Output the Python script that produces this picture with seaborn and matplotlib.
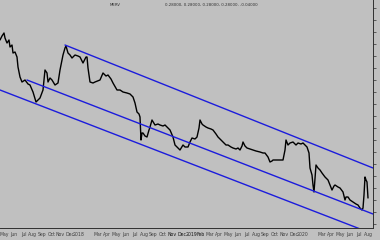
import matplotlib
matplotlib.use("Agg")
import matplotlib.pyplot as plt
import seaborn as sns
import pandas as pd
import numpy as np

# ---- data (bar index, price level) ----
bar = [0, 2, 4, 5, 7, 9, 10, 12, 13, 15, 17, 18, 20, 22, 25, 28, 30, 33, 36, 38, 40, 43, 45, 47, 48, 50,
       52, 55, 58, 60, 62, 63, 65, 66, 68, 70, 72, 75, 78, 80, 83, 86, 87, 88, 90, 93, 95, 100, 103, 106,
       108, 111, 113, 117, 120, 123, 127, 130, 133, 135, 137, 139, 140, 141, 142, 143, 145, 147, 149, 150,
       152, 155, 158, 160, 163, 165, 168, 170, 173, 175, 178, 180, 183, 185, 188, 190, 192, 195, 197, 199,
       200, 202, 203, 206, 208, 211, 213, 216, 218, 221, 223, 226, 228, 231, 233, 236, 238, 240, 242, 243,
       245, 247, 250, 253, 256, 260, 263, 265, 268, 270, 272, 273, 277, 280, 283, 285, 286, 288, 290, 293,
       296, 298, 301, 303, 305, 307, 309, 310, 312, 313, 314, 315, 316, 318, 320, 322, 325, 328, 330, 332,
       334, 335, 338, 340, 343, 345, 346, 348, 350, 353, 356, 358, 360, 362, 363, 364, 365, 366, 367, 368]
price = [188, 192, 195, 190, 185, 188, 181, 183, 175, 176, 171, 161, 151, 146, 148, 144, 143, 136, 126, 128,
         130, 138, 158, 155, 146, 150, 148, 143, 145, 158, 168, 173, 180, 182, 175, 173, 170, 173, 172, 171,
         165, 171, 171, 160, 146, 145, 146, 148, 155, 152, 153, 149, 145, 138, 138, 136, 135, 134, 131, 125,
         116, 114, 111, 88, 95, 95, 92, 91, 98, 101, 108, 103, 104, 103, 102, 103, 100, 98, 91, 83,
         80, 78, 83, 81, 81, 86, 90, 89, 91, 100, 108, 104, 103, 101, 100, 99, 98, 94, 91, 88,
         86, 83, 83, 81, 80, 79, 80, 78, 82, 86, 82, 80, 79, 78, 77, 76, 75, 75, 71, 66,
         67, 68, 68, 68, 68, 78, 88, 83, 85, 86, 83, 85, 84, 85, 83, 81, 75, 60, 53, 43,
         36, 50, 63, 60, 58, 55, 51, 48, 43, 38, 42, 43, 41, 40, 36, 28, 31, 31, 28, 26,
         24, 23, 20, 18, 20, 33, 51, 48, 46, 30]

# channel lines (start/end points)
upper_bar = [65, 373]
upper_val = [183, 60]
middle_bar = [27, 373]
middle_val = [148, 14]
lower_bar = [0, 368]
lower_val = [138, -4]

# month boundaries (bar index) and labels
month_start = [0, 9, 19, 28, 37, 47, 56, 65, 74, 84, 93, 102, 112, 121, 130, 140, 149, 158, 168, 177,
               186, 196, 205, 214, 223, 233, 242, 251, 261, 270, 279, 289, 298, 307, 317, 326, 335, 345,
               354, 363, 373]
month_label = ["May", "Jun", "Jul", "Aug", "Sep", "Oct", "Nov", "Dec", "2018", "", "Mar", "Apr", "May", "Jun",
               "Jul", "Aug", "Sep", "Oct", "Nov", "Dec", "2019", "Feb", "Mar", "Apr", "May", "Jun", "Jul",
               "Aug", "Sep", "Oct", "Nov", "Dec", "2020", "", "Mar", "Apr", "May", "Jun", "Jul", "Aug"]

symbol = "MERV"
ohlc_text = "0.28000, 0.28000, 0.28000, 0.28000, -0.04000"

# ---- plot ----
sns.set_theme(style="white")
plt.rcParams['font.family'] = ['DejaVu Sans']
bg = "#c0c0c0"
fig = plt.figure(figsize=(3.8, 2.4), dpi=100, facecolor=bg)
ax = fig.add_axes([0, 12 / 240, 373 / 380, 228 / 240])
ax.set_facecolor(bg)

df = pd.DataFrame({"bar": bar, "price": price})
sns.lineplot(data=df, x="bar", y="price", ax=ax, color="black", linewidth=1.0, estimator=None, sort=False)

blue = "#1c1cdc"
for bx, by in [(upper_bar, upper_val), (middle_bar, middle_val), (lower_bar, lower_val)]:
    sns.lineplot(x=bx, y=by, ax=ax, color=blue, linewidth=1.0, estimator=None, sort=False)

ax.set_xlim(0, 373)
ax.set_ylim(0, 228)
ax.set_xlabel("")
ax.set_ylabel("")

for s in ["top", "left"]:
    ax.spines[s].set_visible(False)
for s in ["bottom", "right"]:
    ax.spines[s].set_color("#303030")
    ax.spines[s].set_linewidth(0.7)

# right axis ticks, labels cut off
ax.yaxis.tick_right()
ax.set_yticks(np.arange(4, 228, 12))
ax.tick_params(axis="y", direction="out", length=2.5, width=0.5, colors="#303030", labelright=False)

# x axis: separators as minor ticks, labels centered in month cells
mids = [(a + b) / 2 for a, b in zip(month_start[:-1], month_start[1:])]
ax.set_xticks(month_start[:-1], minor=True)
ax.set_xticks(mids)
ax.set_xticklabels(month_label, fontsize=3.3, color="#404040")
ax.tick_params(axis="x", which="major", length=0, pad=3.2)
ax.tick_params(axis="x", which="minor", direction="out", length=10, width=0.4, color="#505050")
# crowded middle labels appear darker
for i in (18, 19, 20, 21):
    ax.get_xticklabels()[i].set_color("#151515")

fig.text(110 / 380, 1 - 5 / 240, symbol, fontsize=2.8, color="#303030", va="center", ha="left")
fig.text(165 / 380, 1 - 5 / 240, ohlc_text, fontsize=2.8, color="#303030", va="center", ha="left")

fig.savefig("out.png", dpi=100, facecolor=bg)
